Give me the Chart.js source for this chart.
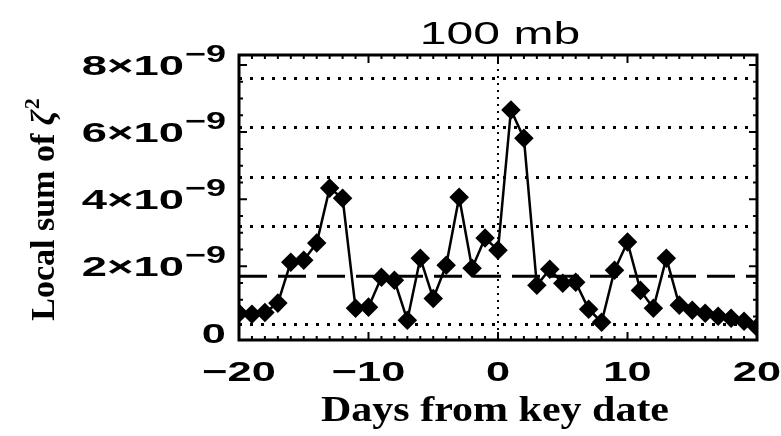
<!DOCTYPE html>
<html>
<head>
<meta charset="utf-8">
<script src="https://cdn.jsdelivr.net/npm/chart.js@4.4.0/dist/chart.umd.min.js"></script>
<style>
  html, body { margin: 0; padding: 0; background: #fff; }
  canvas { display: block; }
</style>
</head>
<body>
<canvas id="chart" width="781" height="436"></canvas>
<script>
// Data (values in units of 1e-9)
const days = [-20, -19, -18, -17, -16, -15, -14, -13, -12, -11, -10, -9, -8, -7, -6, -5, -4, -3, -2, -1,
  0, 1, 2, 3, 4, 5, 6, 7, 8, 9, 10, 11, 12, 13, 14, 15, 16, 17, 18, 19, 20];
const zetaSum = [0.60, 0.57, 0.62, 0.90, 2.12, 2.18, 2.69, 4.33, 4.03, 0.75, 0.78, 1.67, 1.58, 0.39, 2.24, 1.04, 2.03, 4.06, 1.94, 2.84,
  2.48, 6.66, 5.82, 1.43, 1.91, 1.49, 1.52, 0.72, 0.33, 1.88, 2.72, 1.28, 0.75, 2.24, 0.84, 0.69, 0.60, 0.51, 0.45, 0.36, 0.18];
const refLevel = 1.7;
const xTicks = [-20, -10, 0, 10, 20];
const yTicks = [0, 2, 4, 6, 8];
const gridLevels = [0.25, 3.19, 4.66, 6.13, 7.6];  // dotted lines (the one at 1.7 is hidden under the dashed line)

const SANS = "'Liberation Sans', Arial, sans-serif";
const SERIF = "'Liberation Serif', 'Times New Roman', serif";

// draw text stretched horizontally like the scanned figure
function wideText(ctx, text, x, y, font, sx, align) {
  ctx.save();
  ctx.font = font;
  const w = ctx.measureText(text).width * sx;
  const left = align === 'center' ? x - w / 2 : (align === 'right' ? x - w : x);
  ctx.translate(left, y);
  ctx.scale(sx, 1);
  ctx.textAlign = 'left';
  ctx.textBaseline = 'alphabetic';
  ctx.fillStyle = '#000';
  ctx.fillText(text, 0, 0);
  ctx.restore();
  return w;
}

const framePlugin = {
  id: 'frame',
  afterDraw(chart) {
    const ctx = chart.ctx;
    const a = chart.chartArea;
    const xs = chart.scales.x;
    const ys = chart.scales.y;

    ctx.save();
    ctx.strokeStyle = '#000';
    ctx.lineWidth = 3;
    ctx.strokeRect(a.left, a.top, a.right - a.left, a.bottom - a.top);

    // inward ticks on all four sides
    ctx.lineWidth = 2;
    ctx.beginPath();
    for (let d = -19; d < 20; d++) {
      const px = xs.getPixelForValue(d);
      const len = d % 10 === 0 ? 8 : 4;
      ctx.moveTo(px, a.bottom); ctx.lineTo(px, a.bottom - len);
      ctx.moveTo(px, a.top); ctx.lineTo(px, a.top + len);
    }
    for (let v = 0.5; v < 8.3; v += 0.5) {
      const py = ys.getPixelForValue(v);
      const len = v % 2 === 0 ? 8 : 4;
      ctx.moveTo(a.left, py); ctx.lineTo(a.left + len, py);
      ctx.moveTo(a.right, py); ctx.lineTo(a.right - len, py);
    }
    ctx.stroke();
    ctx.restore();

    // x tick labels
    xTicks.forEach(t => {
      const label = t < 0 ? '\u2212' + Math.abs(t) : String(t);
      wideText(ctx, label, xs.getPixelForValue(t), 381, 'bold 28px ' + SANS, 1.55, 'center');
    });

    // y tick labels, 8×10^-9 style
    const labelRight = 226;
    yTicks.forEach(t => {
      const py = ys.getPixelForValue(t);
      if (t === 0) {
        wideText(ctx, '0', labelRight, py + 10, 'bold 28px ' + SANS, 1.55, 'right');
        return;
      }
      const supW = wideText(ctx, '\u22129', labelRight, py - 3, 'bold 24px ' + SANS, 1.5, 'right');
      wideText(ctx, t + '\u00d710', labelRight - supW - 1, py + 10, 'bold 28px ' + SANS, 1.62, 'right');
    });

    // title
    wideText(ctx, '100 mb', 500, 44, '31px ' + SANS, 1.55, 'center');

    // x axis title
    wideText(ctx, 'Days from key date', 495, 421, 'bold 35px ' + SERIF, 1.2, 'center');

    // y axis title, rotated
    ctx.save();
    ctx.translate(54, 210);
    ctx.rotate(-Math.PI / 2);
    ctx.fillStyle = '#000';
    ctx.textBaseline = 'alphabetic';
    const base = 'Local sum of ';
    ctx.font = 'bold 34px ' + SERIF;
    const w1 = ctx.measureText(base).width;
    ctx.font = 'italic bold 34px ' + SERIF;
    const w2 = ctx.measureText('\u03b6').width;
    ctx.font = 'bold 22px ' + SERIF;
    const w3 = ctx.measureText('2').width;
    const x0 = -(w1 + w2 + w3) / 2;
    ctx.font = 'bold 34px ' + SERIF;
    ctx.fillText(base, x0, 0);
    ctx.font = 'italic bold 34px ' + SERIF;
    ctx.fillText('\u03b6', x0 + w1, 0);
    ctx.font = 'bold 22px ' + SERIF;
    ctx.fillText('2', x0 + w1 + w2 + 1, -15);
    ctx.restore();
  }
};

new Chart(document.getElementById('chart'), {
  type: 'line',
  data: {
    datasets: [
      {
        label: 'reference',
        data: [{ x: -20, y: refLevel }, { x: 20, y: refLevel }],
        borderColor: '#000',
        borderWidth: 3,
        borderDash: [28, 11],
        pointRadius: 0
      },
      {
        label: 'Local sum',
        data: days.map((d, i) => ({ x: d, y: zetaSum[i] })),
        borderColor: '#000',
        borderWidth: 2.5,
        pointStyle: 'rectRot',
        pointRadius: 8,
        pointBackgroundColor: '#000',
        pointBorderColor: '#000',
        tension: 0
      }
    ]
  },
  options: {
    responsive: false,
    animation: false,
    layout: { padding: { left: 0, right: 24, top: 55, bottom: 96 } },
    plugins: {
      legend: { display: false },
      title: { display: false },
      tooltip: { enabled: false }
    },
    scales: {
      x: {
        type: 'linear',
        min: -20,
        max: 20,
        afterBuildTicks: s => { s.ticks = xTicks.map(v => ({ value: v })); },
        afterFit: s => { s.height = 0; },
        ticks: { display: false },
        grid: {
          drawTicks: false,
          lineWidth: 2,
          color: c => (c.tick && c.tick.value === 0 ? '#000' : 'rgba(0,0,0,0)')
        },
        border: { display: false, dash: [2, 5] }
      },
      y: {
        type: 'linear',
        min: -0.2,
        max: 8.3,
        afterBuildTicks: s => { s.ticks = gridLevels.map(v => ({ value: v })); },
        afterFit: s => { s.width = 239; },
        ticks: { display: false },
        grid: { drawTicks: false, lineWidth: 3, color: '#000' },
        border: { display: false, dash: [3, 8] }
      }
    }
  },
  plugins: [framePlugin]
});
</script>
</body>
</html>
